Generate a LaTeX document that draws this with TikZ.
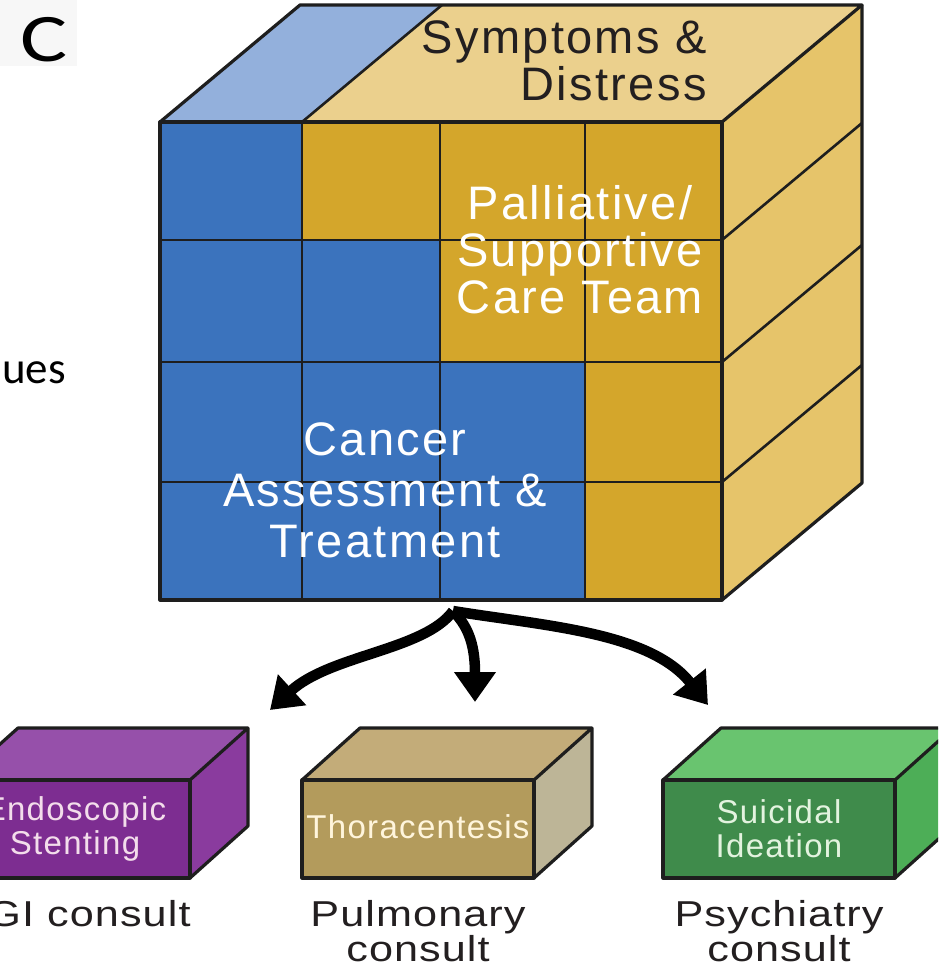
\documentclass[tikz,border=0pt]{standalone}
\usepackage{fontspec}
\setmainfont{Liberation Sans}
\newfontfamily\calibfont{Carlito}
\newfontfamily\letterfont[FakeStretch=1.3]{Carlito}
\newfontfamily\cubefont[LetterSpace=5]{Liberation Sans}
\newfontfamily\lblfont[LetterSpace=4]{Liberation Sans}
\newfontfamily\consultfont[FakeStretch=1.2,LetterSpace=3]{Liberation Sans}
\usetikzlibrary{arrows.meta}
\definecolor{edge}{HTML}{1E1E1E}
\definecolor{cblue}{HTML}{3B73BD}
\definecolor{cgold}{HTML}{D4A62B}
\definecolor{tblue}{HTML}{93B0DC}
\definecolor{tgold}{HTML}{EBD08D}
\definecolor{rgold}{HTML}{E6C46A}
\definecolor{pfront}{HTML}{7D2D91}
\definecolor{ptop}{HTML}{9650AA}
\definecolor{pright}{HTML}{8A3B9E}
\definecolor{tfront}{HTML}{B39B5C}
\definecolor{ttop}{HTML}{C3AC79}
\definecolor{tright}{HTML}{BDB597}
\definecolor{gfront}{HTML}{3F8B4B}
\definecolor{gtop}{HTML}{69C46F}
\definecolor{gright}{HTML}{4DAE57}
\definecolor{ptext}{HTML}{F3DDEB}
\definecolor{ttext}{HTML}{FFF5DC}
\definecolor{gtext}{HTML}{E3F3DF}
\definecolor{darktext}{HTML}{231F20}
\tikzset{
  gridline/.style={draw=edge,line width=2.6pt},
  outline/.style={draw=edge,line width=3.2pt,line join=round},
  cubetext/.style={inner sep=0pt,font=\cubefont\fontsize{47pt}{47pt}\selectfont},
  boxtext/.style={inner sep=0pt,align=center,font=\lblfont\fontsize{33pt}{34pt}\selectfont},
  consult/.style={inner sep=0pt,align=center,anchor=north,text=darktext,font=\consultfont\fontsize{36pt}{35pt}\selectfont},
  bigarrow/.style={draw=black,line width=10.5pt,-{Triangle[width=40pt,length=30pt]}}
}
\begin{document}
\begin{tikzpicture}[x=1pt,y=-1pt]
\useasboundingbox (0,0) rectangle (938,967);
\clip (0,0) rectangle (938,967);
\fill[white] (0,0) rectangle (938,967);
% panel letter background
\fill[black!3] (0,0) rectangle (77,66);
\node[inner sep=0pt,anchor=base,font=\letterfont\fontsize{68pt}{68pt}\selectfont] (letter) at (44,61) {C};
\node[inner sep=0pt,anchor=base east,font=\calibfont\fontsize{45pt}{45pt}\selectfont] (ues) at (66,383) {ues};

% ---------- big cube ----------
% top face
\fill[tgold] (160,122) -- (300,5) -- (862,5) -- (722,122) -- cycle;
\fill[tblue] (160,122) -- (300,5) -- (442,5) -- (302,122) -- cycle;
% right face
\fill[rgold] (722,122) -- (862,5) -- (862,483) -- (722,600) -- cycle;
% front face cells
\fill[cgold] (160,122) rectangle (722,600);
\fill[cblue] (160,122) rectangle (302,240);
\fill[cblue] (160,240) rectangle (440,362);
\fill[cblue] (160,362) rectangle (585,600);
% grid lines
\draw[gridline] (302,122) -- (302,600) (440,122) -- (440,600) (585,122) -- (585,600);
\draw[gridline] (160,240) -- (722,240) (160,362) -- (722,362) (160,482) -- (722,482);
\draw[gridline] (722,240) -- (862,123) (722,362) -- (862,245) (722,482) -- (862,365);
\draw[gridline] (302,122) -- (442,5);
% outlines
\draw[outline] (160,122) rectangle (722,600);
\draw[outline] (160,122) -- (300,5) -- (862,5) -- (722,122);
\draw[outline] (862,5) -- (862,483) -- (722,600);
\node[cubetext,text=darktext,align=right,anchor=north east] (symptoms) at (707,20) {Symptoms \&\\Distress};
\node[cubetext,text=white,align=center] (palliative) at (580,250) {Palliative/\\Supportive\\Care Team};
\node[cubetext,text=white,align=center,font=\cubefont\fontsize{47pt}{51pt}\selectfont] (cancer) at (385,490) {Cancer\\Assessment \&\\Treatment};

% ---------- consult boxes ----------
% GI (purple)
\fill[ptop] (-40,780) -- (18,728) -- (248,728) -- (190,780) -- cycle;
\fill[pright] (190,780) -- (248,728) -- (248,826) -- (190,878) -- cycle;
\fill[pfront] (-40,780) rectangle (190,878);
\draw[outline] (-40,780) rectangle (190,878);
\draw[outline] (-40,780) -- (18,728) -- (248,728) -- (190,780) (248,728) -- (248,826) -- (190,878);
\node[boxtext,text=ptext] (gi) at (75,829) {Endoscopic\\Stenting};
% Pulmonary (tan)
\fill[ttop] (302,780) -- (360,728) -- (592,728) -- (534,780) -- cycle;
\fill[tright] (534,780) -- (592,728) -- (592,826) -- (534,878) -- cycle;
\fill[tfront] (302,780) rectangle (534,878);
\draw[outline] (302,780) rectangle (534,878);
\draw[outline] (302,780) -- (360,728) -- (592,728) -- (534,780) (592,728) -- (592,826) -- (534,878);
\node[boxtext,text=ttext] (pulm) at (418,827) {Thoracentesis};
% Psychiatry (green)
\fill[gtop] (663,780) -- (721,728) -- (953,728) -- (895,780) -- cycle;
\fill[gright] (895,780) -- (953,728) -- (953,826) -- (895,878) -- cycle;
\fill[gfront] (663,780) rectangle (895,878);
\draw[outline] (663,780) rectangle (895,878);
\draw[outline] (663,780) -- (721,728) -- (953,728) -- (895,780) (953,728) -- (953,826) -- (895,878);
\node[boxtext,text=gtext] (psych) at (779,829) {Suicidal\\Ideation};

% labels
\node[consult] (gilabel) at (89,900) {GI consult};
\node[consult] (pulmlabel) at (418,900) {Pulmonary\\consult};
\node[consult] (psychlabel) at (779,900) {Psychiatry\\consult};

% ---------- arrows ----------
\coordinate (src) at (453,611);
\coordinate (tipL) at (270,710);
\coordinate (tipM) at (475,702);
\coordinate (tipR) at (708,705);
\draw[bigarrow] (src) .. controls (425,650) and (330,655) .. (tipL);
\draw[bigarrow] (src) .. controls (470,628) and (475,648) .. (tipM);
\draw[bigarrow] (src) .. controls (545,626) and (650,632) .. (tipR);
\end{tikzpicture}
\end{document}
